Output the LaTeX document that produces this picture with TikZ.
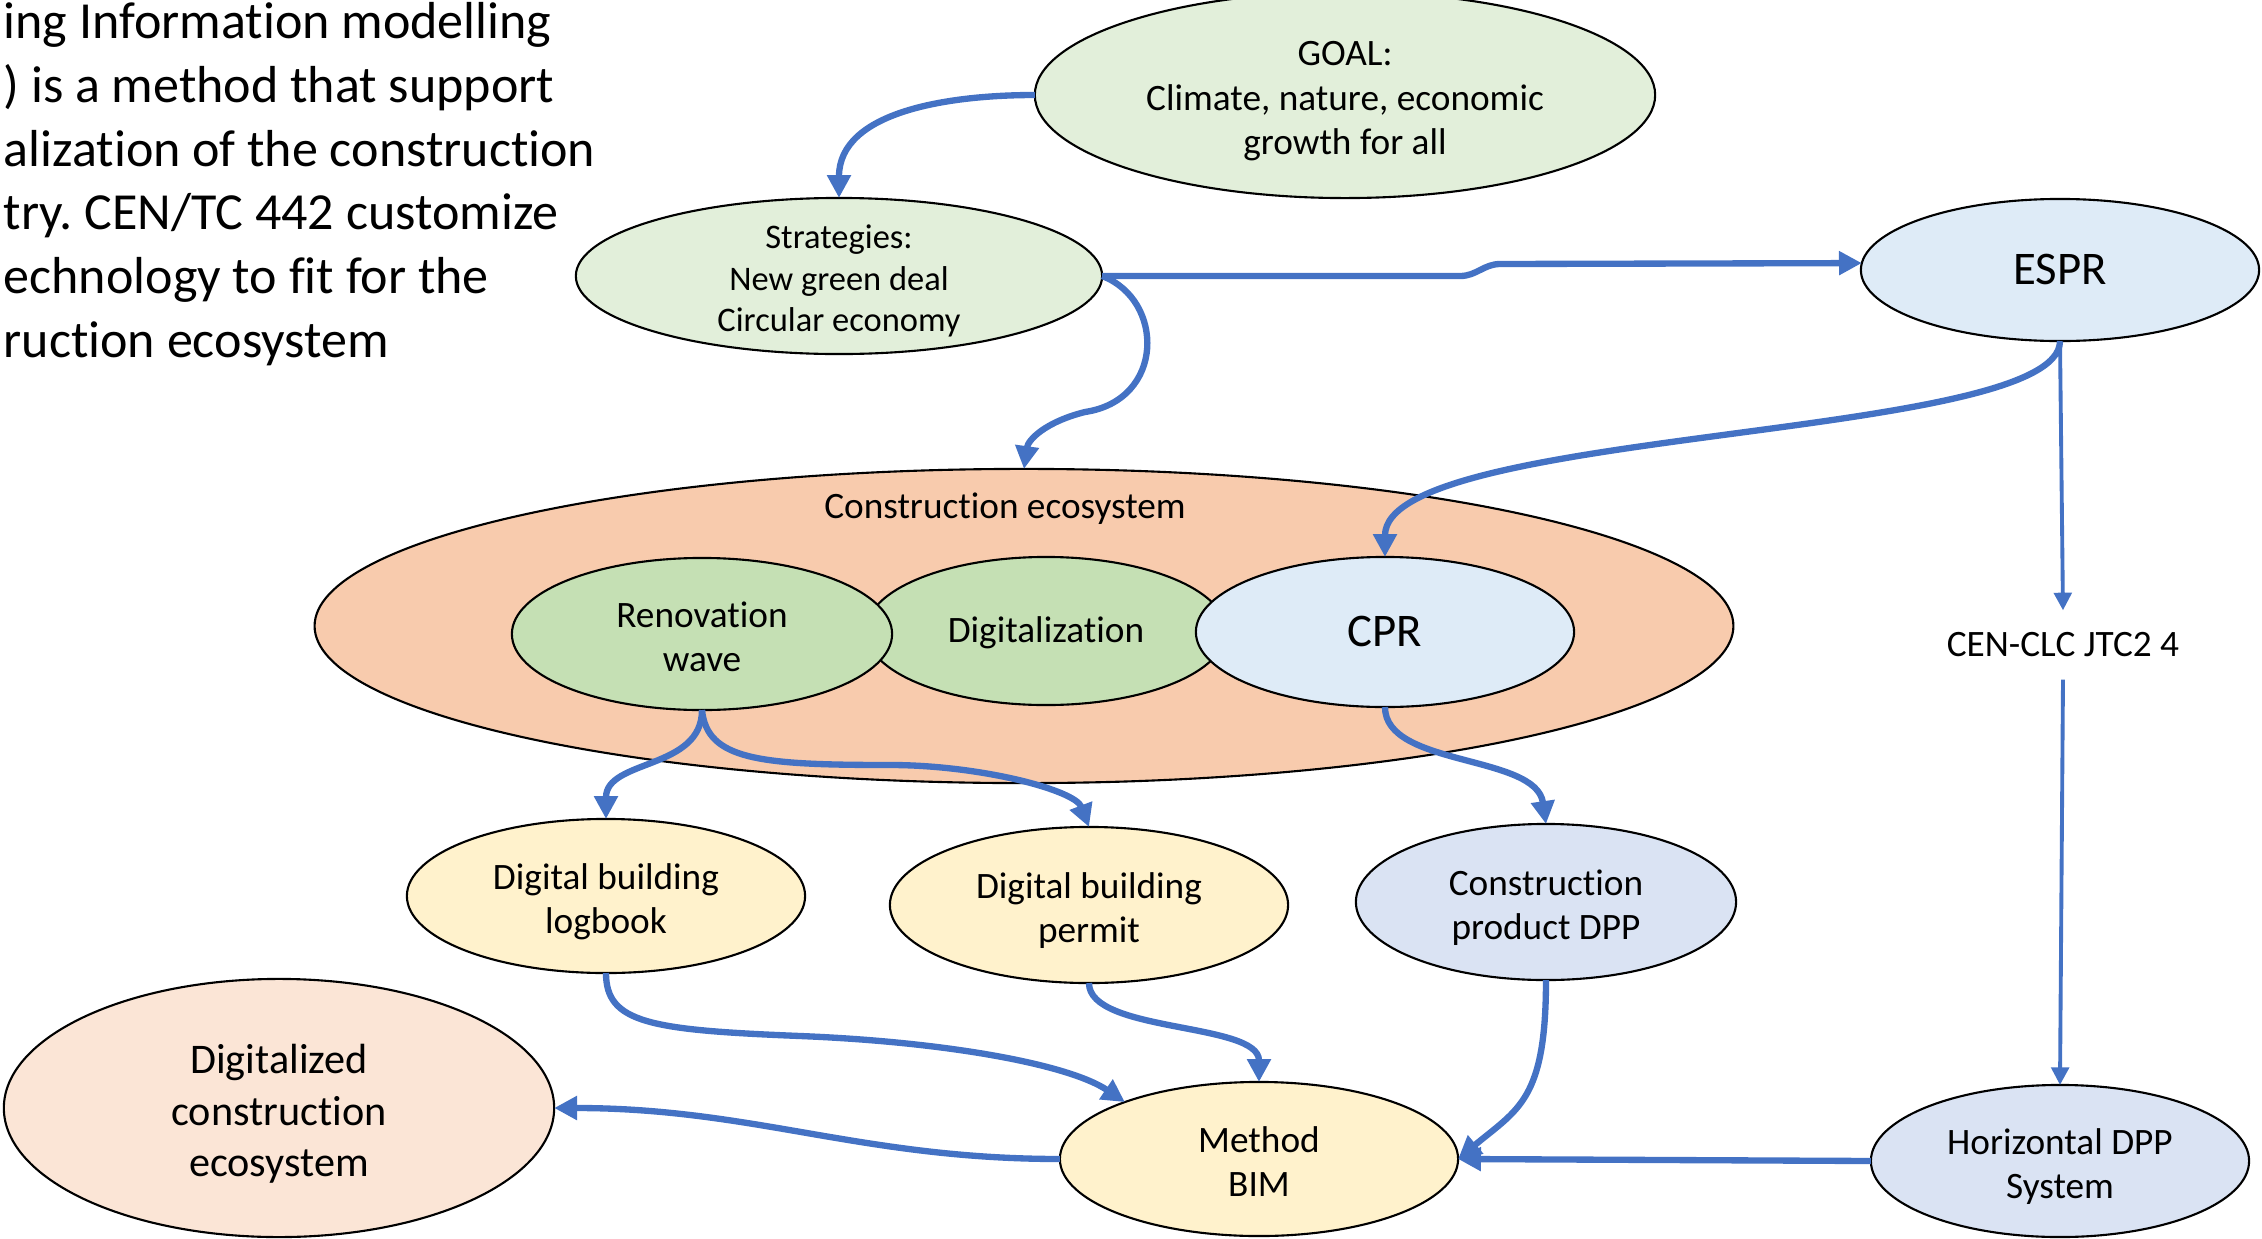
\documentclass[tikz,border=0pt]{standalone}
\usepackage{fontspec}
\setmainfont{Carlito}[Ligatures=CommonOff]
\frenchspacing
\usetikzlibrary{shapes.geometric,arrows.meta}

\definecolor{GoalGreen}{HTML}{E2EFDA}
\definecolor{LeafGreen}{HTML}{C5E0B4}
\definecolor{PaleBlue}{HTML}{DEEBF7}
\definecolor{GreyBlue}{HTML}{DAE3F3}
\definecolor{EcoOrange}{HTML}{F8CBAD}
\definecolor{PaleOrange}{HTML}{FBE5D6}
\definecolor{PaleYellow}{HTML}{FFF2CC}
\definecolor{ArrowBlue}{HTML}{4472C4}

\newcommand{\topgap}{\rule{0pt}{1.07em}}

\begin{document}
\begin{tikzpicture}[x=0.01cm, y=-0.01cm]
\useasboundingbox (0,0) rectangle (2262,1239);

\coordinate (C_goal) at (1345, 95);
\coordinate (C_strat) at (839, 276);
\coordinate (C_espr) at (2060, 270);
\coordinate (C_eco) at (1024, 626);
\coordinate (C_reno) at (702, 634);
\coordinate (C_digi) at (1046, 631);
\coordinate (C_cpr) at (1385, 632);
\coordinate (C_jtc) at (2063, 645);
\coordinate (C_logbook) at (606, 896);
\coordinate (C_permit) at (1089, 905);
\coordinate (C_dpp) at (1546, 902);
\coordinate (C_dce) at (279, 1108);
\coordinate (C_bim) at (1259, 1159);
\coordinate (C_hdpp) at (2060, 1161);


\node[anchor=north west, align=left, inner sep=0pt, font=\fontsize{14.8}{18.1}\selectfont] (intro) at (3, 2)
 {ing Information modelling\\) is a method that support\\alization of the construction\\try. CEN/TC 442 customize\\echnology to fit for the\\ruction ecosystem};


\tikzset{BubbleStyle/.style = {
 shape = ellipse,
 draw = black,
 line width = 0.6pt,
 text = black,
 align = center,
 inner sep = 0pt,
 outer sep = 0pt,
 execute at begin node = {\rule[-0.25em]{0pt}{1.1em}},
 execute at end node = {\rule[-0.25em]{0pt}{1.1em}},
 font = \fontsize{10.6}{12.6}\selectfont} }

\node[BubbleStyle, fill=GoalGreen, minimum width=6.2cm, minimum height=2.06cm] (goal) at (C_goal) {\topgap GOAL:\\Climate, nature, economic\\growth for all};
\node[BubbleStyle, fill=GoalGreen, minimum width=5.26cm, minimum height=1.56cm, inner ysep=-3pt, font=\fontsize{9.8}{11.7}\selectfont] (strat) at (C_strat) {\topgap Strategies:\\New green deal\\Circular economy};
\node[BubbleStyle, fill=PaleBlue, minimum width=3.98cm, minimum height=1.42cm, font=\fontsize{13.3}{16}\selectfont] (espr) at (C_espr) {ESPR};
\node[BubbleStyle, fill=EcoOrange, minimum width=14.18cm, minimum height=3.14cm] (eco) at (C_eco) {};
\node[font=\fontsize{10.6}{12.6}\selectfont, inner sep=0pt] (ecolabel) at (1005, 509) {Construction ecosystem};
\node[BubbleStyle, fill=LeafGreen, minimum width=3.6cm, minimum height=1.48cm] (digi) at (C_digi) {Digitalization};
\node[BubbleStyle, fill=LeafGreen, minimum width=3.8cm, minimum height=1.52cm] (reno) at (C_reno) {\topgap Renovation\\wave};
\node[BubbleStyle, fill=PaleBlue, minimum width=3.78cm, minimum height=1.5cm, font=\fontsize{13.3}{16}\selectfont] (cpr) at (C_cpr) {CPR};
\node[font=\fontsize{10.6}{12.6}\selectfont, inner xsep=0pt, inner ysep=6.2pt] (jtc) at (C_jtc) {CEN-CLC JTC2 4};
\node[BubbleStyle, fill=PaleYellow, minimum width=3.98cm, minimum height=1.54cm] (logbook) at (C_logbook) {\topgap Digital building\\logbook};
\node[BubbleStyle, fill=PaleYellow, minimum width=3.98cm, minimum height=1.56cm] (permit) at (C_permit) {\topgap Digital building\\permit};
\node[BubbleStyle, fill=GreyBlue, minimum width=3.8cm, minimum height=1.56cm] (dpp) at (C_dpp) {\topgap Construction\\product DPP};
\node[BubbleStyle, fill=PaleOrange, minimum width=5.5cm, minimum height=2.58cm, font=\fontsize{12}{14.6}\selectfont] (dce) at (C_dce) {\topgap Digitalized\\construction\\ecosystem};
\node[BubbleStyle, fill=PaleYellow, minimum width=3.98cm, minimum height=1.54cm] (bim) at (C_bim) {\topgap Method\\BIM};
\node[BubbleStyle, fill=GreyBlue, minimum width=3.78cm, minimum height=1.52cm] (hdpp) at (C_hdpp) {\topgap Horizontal DPP\\System};


\tikzset{ArrowStyle/.style = {draw = ArrowBlue, line width = 1.8pt, -{Triangle[length=6.5pt, width=6.5pt]}} }
\tikzset{ThinArrowStyle/.style = {draw = ArrowBlue, line width = 1.1pt, -{Triangle[length=5pt, width=5pt]}} }

\draw[ArrowStyle] (goal.west) to[out=180, in=90] (strat.north);
\draw[ArrowStyle] (strat.east) -- ++(358,0) to[out=0, in=180] ++(40,-12) -- (espr.178);
\draw[ArrowStyle] (strat.east) .. controls (1165,300) and (1165,400) .. (1085,412) .. controls (1045,422) and (1028,440) .. (eco.north);
\draw[ArrowStyle] (espr.south) .. controls +(0,100) and +(0,-130) .. (cpr.north);
\draw[ThinArrowStyle] (espr.south) -- (jtc.north);
\draw[ThinArrowStyle] (jtc.south) -- (hdpp.north);
\draw[ArrowStyle] (reno.south) .. controls +(0,60) and +(0,-60) .. (logbook.north);
\draw[ArrowStyle] (reno.south) .. controls +(5,50) and (760,765) .. (890,765) .. controls (980,765) and (1075,790) .. (permit.north);
\draw[ArrowStyle] (cpr.south) .. controls +(0,60) and +(-10,-70) .. (dpp.north);
\draw[ArrowStyle] (logbook.south) .. controls +(0,50) and (650,1030) .. (800,1036) .. controls (950,1042) and (1070,1065) .. (bim.157);
\draw[ArrowStyle] (permit.south) .. controls +(0,50) and +(0,-60) .. (bim.north);
\draw[ArrowStyle] (dpp.south) .. controls +(0,120) and +(60,-50) .. (bim.east);
\draw[ArrowStyle] (hdpp.west) -- (bim.east);
\draw[ArrowStyle] (bim.west) to[out=180, in=0] (dce.east);

\end{tikzpicture}
\end{document}
